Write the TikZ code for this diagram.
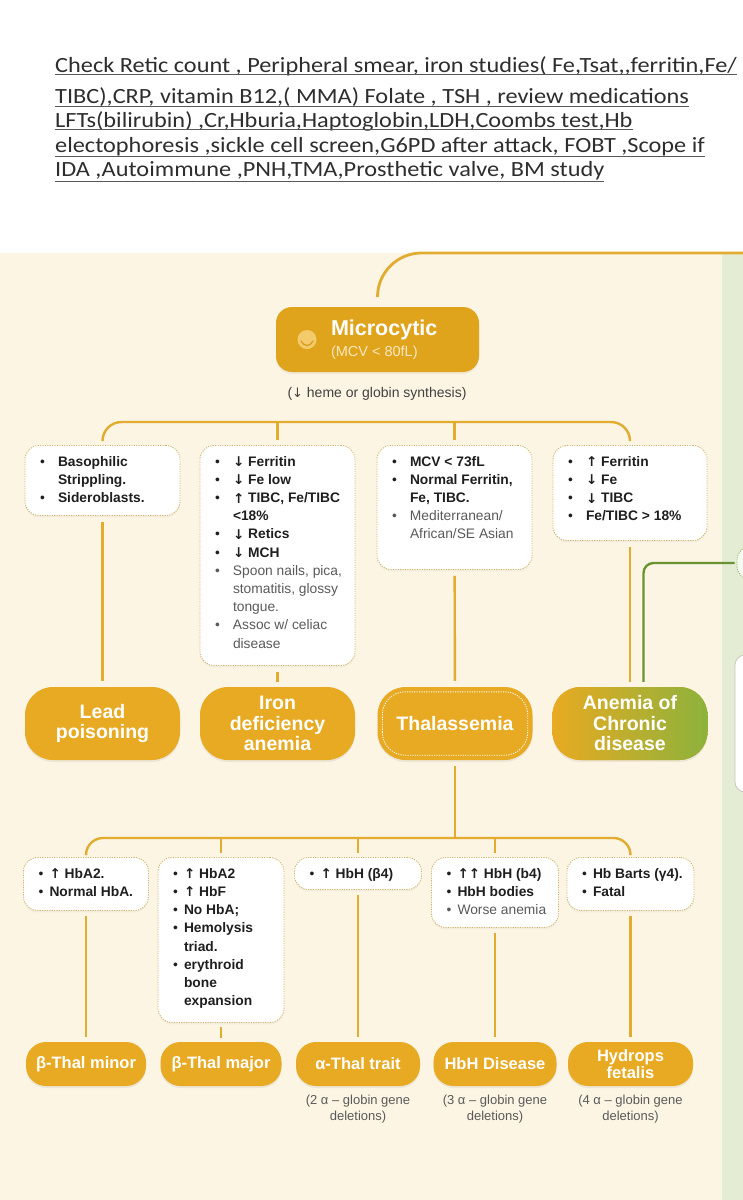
\documentclass[tikz,border=0pt]{standalone}
\usepackage{fontspec}
\setmainfont{Liberation Sans}
\newfontfamily\handfont[FakeStretch=1.12]{Carlito}
\newfontfamily\arrowfont{DejaVu Sans}
\usetikzlibrary{positioning, shadows}

\definecolor{cream}{HTML}{FCF5E4}
\definecolor{sage}{HTML}{E4EDD3}
\definecolor{honey}{HTML}{E0A41C}
\definecolor{amber}{HTML}{E8AA22}
\definecolor{strand}{HTML}{E2AC30}
\definecolor{leaf}{HTML}{8DB23C}
\definecolor{leafline}{HTML}{6A9432}
\definecolor{dotc}{HTML}{CFB56C}
\definecolor{ink}{HTML}{1F1F1F}
\definecolor{soft}{HTML}{5A5A5A}
\definecolor{pen}{HTML}{2E2E2E}
\definecolor{microsub}{HTML}{FBE8BE}
\definecolor{iconc}{HTML}{F4CB6A}

\newcommand{\arrdn}{\raisebox{-0.5pt}{\arrowfont\bfseries\fontsize{13.5}{18.2}\selectfont ↓}}
\newcommand{\arrup}{\raisebox{-0.5pt}{\arrowfont\bfseries\fontsize{13.5}{18.2}\selectfont ↑}}
\newcommand{\itm}[1]{\par\hangindent=18pt\hangafter=1\noindent\strut\makebox[18pt][l]{•}#1}
\newcommand{\gitm}[1]{\par\hangindent=18pt\hangafter=1\noindent\strut{\color{soft}\makebox[18pt][l]{•}#1}}
\newcommand{\sitm}[1]{\par\hangindent=11pt\hangafter=1\noindent\strut\makebox[11pt][l]{•}#1}
\newcommand{\sgitm}[1]{\par\hangindent=11pt\hangafter=1\noindent\strut{\color{soft}\makebox[11pt][l]{•}#1}}
\newcommand{\infotext}[3]{\parbox[c][#1][t]{#2}{\raggedright\leftskip=15pt\parskip=0pt #3}}

\begin{document}
\begin{tikzpicture}[x=1pt, y=-1pt,
    wire/.style={draw=strand, line width=2.4pt},
    leafwire/.style={draw=leafline, line width=2.4pt},
    infobox/.style={anchor=north, draw=dotc, line width=0.9pt, dash pattern=on 1.1pt off 1.3pt, fill=white, rounded corners=14pt, inner xsep=0pt, inner ysep=8pt, font=\fontsize{13.8}{18.2}\selectfont, text=ink, drop shadow={opacity=0.07, shadow xshift=0pt, shadow yshift=-2pt}},
    pill/.style={fill=amber, text=white, align=center, inner sep=0pt, minimum height=73pt, minimum width=155pt, rounded corners=28pt, font=\fontsize{19.5}{20.5}\selectfont\bfseries, drop shadow={opacity=0.12, shadow xshift=0pt, shadow yshift=-2pt}},
    subpill/.style={pill, minimum height=44pt, rounded corners=20pt, font=\fontsize{16.5}{17}\selectfont\bfseries},
    note/.style={anchor=base west, inner sep=0pt, text=pen, font=\handfont\fontsize{21.7}{26}\selectfont},
    uline/.style={draw=pen!80, line width=0.9pt},
    gene/.style={align=center, inner sep=0pt, text=soft, font=\fontsize{13}{16}\selectfont}]
  \useasboundingbox (0,0) rectangle (743,1200);
  \clip (0,0) rectangle (743,1200);
  \fill[white] (0,0) rectangle (743,253);
  \fill[cream] (0,253) rectangle (722,1200);
  \fill[sage] (722,253) rectangle (743,1200);

  % handwritten work-up
  \node[note] (n1) at (55,72) {Check Retic count , Peripheral smear, iron studies( Fe,Tsat,,ferritin,Fe/};
  \node[note] (n2) at (55,103) {TIBC),CRP, vitamin B12,( MMA) Folate , TSH , review medications};
  \node[note] (n3) at (55,127) {LFTs(bilirubin) ,Cr,Hburia,Haptoglobin,LDH,Coombs test,Hb};
  \node[note] (n4) at (55,152) {electophoresis ,sickle cell screen,G6PD after attack, FOBT ,Scope if};
  \node[note] (n5) at (55,176) {IDA ,Autoimmune ,PNH,TMA,Prosthetic valve, BM study};
  \draw[uline] ([yshift=-2.5pt]n1.base west) -- ([yshift=-2.5pt]n1.base east);
  \draw[uline] ([yshift=-3pt]n2.base west) -- ([yshift=-3pt]n2.base east);
  \draw[uline] ([yshift=-2.5pt]n3.base west) -- ([yshift=-2.5pt]n3.base east);
  \draw[uline] ([yshift=-4pt]n4.base west) -- ([yshift=-4pt]n4.base east);
  \draw[uline] ([yshift=-5pt]n5.base west) -- ([yshift=-5pt]n5.base east);

  % microcytic branch
  \node[fill=honey, rounded corners=16pt, minimum width=203pt, minimum height=65pt, inner sep=0pt, text=white, drop shadow={opacity=0.1, shadow xshift=0pt, shadow yshift=-2pt}] (micro) at (377.5,339.5)
    {\makebox[203pt][l]{\hspace{55pt}\parbox{145pt}{\fontsize{21.5}{21}\selectfont\bfseries Microcytic\\{\fontsize{14.5}{16}\selectfont\mdseries\color{microsub}(MCV < 80fL)}}}};
  \node[circle, fill=iconc, minimum size=19pt, inner sep=0pt] (icon) at (307,339.5) {};
  \draw[honey!80!brown, line width=1.3pt, line cap=round] (301,341) .. controls (304,347) and (310,347) .. (313,341);
  \node[font=\fontsize{14}{16}\selectfont, text=ink!85] (heme) at (377,394) {({\arrowfont\fontsize{13}{16}\selectfont ↓} heme or globin synthesis)};
  \coordinate (topend) at (760,253);
  \draw[wire, line width=2.8pt, rounded corners=44pt, shorten <=10pt] (micro.north) |- (topend);

  \node[infobox] (leadbox) at (102.5,445) {\infotext{54pt}{155pt}{%
    \itm{\textbf{Basophilic\newline Strippling.}}\itm{\textbf{Sideroblasts.}}}};
  \node[infobox] (ironbox) at (277.5,445) {\infotext{204pt}{155pt}{%
    \itm{\arrdn\ \textbf{Ferritin}}\itm{\arrdn\ \textbf{Fe low}}\itm{\arrup\ \textbf{TIBC, Fe/TIBC\newline <18\%}}\itm{\arrdn\ \textbf{Retics}}\itm{\arrdn\ \textbf{MCH}}%
    \gitm{Spoon nails, pica,\newline stomatitis, glossy\newline tongue.}\gitm{Assoc w/ celiac\newline disease}}};
  \node[infobox] (thalbox) at (454.5,445) {\infotext{108pt}{155pt}{%
    \itm{\textbf{MCV < 73fL}}\itm{\textbf{Normal Ferritin,\newline Fe, TIBC.}}\gitm{Mediterranean/\newline African/SE Asian}}};
  \node[infobox] (acdbox) at (630,445) {\infotext{79pt}{154pt}{%
    \itm{\arrup\ \textbf{Ferritin}}\itm{\arrdn\ \textbf{Fe}}\itm{\arrdn\ \textbf{TIBC}}\itm{\textbf{Fe/TIBC > 18\%}}}};

  \coordinate (bus1) at (377,422);
  \draw[wire, rounded corners=19pt, shorten <=5pt, shorten >=5pt] (leadbox.north) |- (bus1) -| (acdbox.north);
  \draw[wire, shorten >=5pt] (ironbox.north |- bus1) -- (ironbox.north);
  \draw[wire, shorten >=5pt] (thalbox.north |- bus1) -- (thalbox.north);

  \node[pill] (lead) at (102.5,723.5) {Lead\\poisoning};
  \node[pill] (ida) at (277.5,723.5) {Iron\\deficiency\\anemia};
  \node[pill] (thal) at (455,723.5) {Thalassemia};
  \node[pill, left color=amber, middle color=amber!70!leaf, right color=leaf] (acd) at (630,723.5) {Anemia of\\Chronic\\disease};
  \draw[white, line width=0.9pt, dash pattern=on 1.1pt off 1.3pt, rounded corners=23pt] ([shift={(5pt,5pt)}]thal.south west) rectangle ([shift={(-5pt,-5pt)}]thal.north east);

  \draw[wire, shorten <=6pt, shorten >=6pt] (leadbox) -- (lead);
  \draw[wire, shorten <=6pt, shorten >=5pt] (ironbox) -- (ida);
  \draw[wire, shorten <=6pt, shorten >=6pt] (thalbox) -- (thal);
  \draw[wire, shorten <=6pt, shorten >=5pt] (acdbox) -- (acd);

  % right-hand panel
  \node[draw=leafline!70, line width=0.9pt, dash pattern=on 1.1pt off 1.3pt, fill=white!70!sage, rounded corners=14pt, minimum width=110pt, minimum height=34pt] (ghost) at (792,563) {};
  \node[draw=gray!45, line width=0.8pt, fill=white, rounded corners=10pt, minimum width=110pt, minimum height=137pt] (side) at (790,723.5) {};
  \draw[leafwire, rounded corners=10pt, shorten <=2pt, shorten >=5pt] (ghost.west) -| ([xshift=13.5pt]acd.north);

  % thalassemia subtypes
  \node[infobox] (minbox) at (86,857) {\infotext{37pt}{125pt}{%
    \sitm{\arrup\ \textbf{HbA2.}}\sitm{\textbf{Normal HbA.}}}};
  \node[infobox] (majbox) at (221,857) {\infotext{149pt}{126pt}{%
    \sitm{\arrup\ \textbf{HbA2}}\sitm{\arrup\ \textbf{HbF}}\sitm{\textbf{No HbA;}}\sitm{\textbf{Hemolysis\newline triad.}}\sitm{\textbf{erythroid\newline bone\newline expansion}}}};
  \node[infobox] (traitbox) at (358,857) {\infotext{16pt}{127pt}{%
    \sitm{\arrup\ \textbf{HbH (β4)}}}};
  \node[infobox] (hbhbox) at (495,857) {\infotext{54pt}{127pt}{%
    \sitm{\arrup\arrup\ \textbf{HbH (b4)}}\sitm{\textbf{HbH bodies}}\sgitm{Worse anemia}}};
  \node[infobox] (hydbox) at (630.5,857) {\infotext{37pt}{127pt}{%
    \sitm{\textbf{Hb Barts (γ4).}}\sitm{\textbf{Fatal}}}};

  \coordinate (bus2) at (455,838);
  \draw[wire, shorten <=6pt] (thal) -- (bus2);
  \draw[wire, rounded corners=17pt, shorten <=4pt, shorten >=4pt] (minbox.north) |- (bus2) -| (hydbox.north);
  \draw[wire, shorten >=4pt] (majbox.north |- bus2) -- (majbox.north);
  \draw[wire, shorten >=4pt] (traitbox.north |- bus2) -- (traitbox.north);
  \draw[wire, shorten >=4pt] (hbhbox.north |- bus2) -- (hbhbox.north);

  \node[subpill, minimum width=120pt] (minor) at (86,1064) {β-Thal minor};
  \node[subpill, minimum width=121pt] (major) at (221,1064) {β-Thal major};
  \node[subpill, minimum width=124pt] (trait) at (358,1064) {α-Thal trait};
  \node[subpill, minimum width=123pt] (hbh) at (495,1064) {HbH Disease};
  \node[subpill, minimum width=125pt] (hydrops) at (630.5,1064) {Hydrops\\fetalis};

  \draw[wire, shorten <=5pt, shorten >=5pt] (minbox) -- (minor);
  \draw[wire, shorten <=4pt, shorten >=4pt] (majbox) -- (major);
  \draw[wire, shorten <=5pt, shorten >=5pt] (traitbox) -- (trait);
  \draw[wire, shorten <=5pt, shorten >=5pt] (hbhbox) -- (hbh);
  \draw[wire, shorten <=5pt, shorten >=5pt] (hydbox) -- (hydrops);

  \node[gene, below=9pt of trait] (del2) {(2 α – globin gene\\deletions)};
  \node[gene, below=9pt of hbh] (del3) {(3 α – globin gene\\deletions)};
  \node[gene, below=9pt of hydrops] (del4) {(4 α – globin gene\\deletions)};
\end{tikzpicture}
\end{document}
